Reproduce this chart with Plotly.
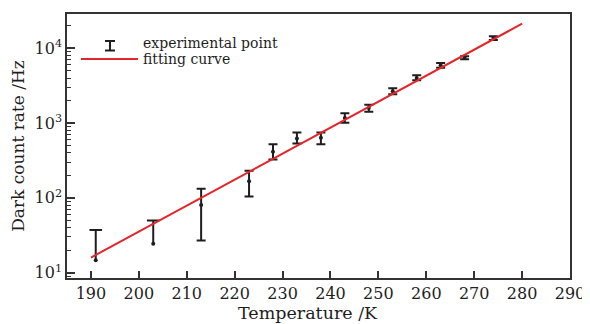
import plotly.graph_objects as go

# ---- data ----
temp_K = [191, 203, 213, 223, 228, 233, 238, 243, 248, 253, 258, 263, 268, 274]
rate_Hz = [14.6, 24.4, 80, 167, 413, 624, 635, 1170, 1592, 2665, 4009, 5930, 7480, 13770]
upper_Hz = [37.2, 49.8, 132, 230, 523, 750, 750, 1352, 1757, 2925, 4355, 6383, 7822, 14490]
lower_Hz = [None, None, 26.8, 104, 327, 535, 522, 1012, 1416, 2430, 3735, 5512, 7129, 12930]

fit_T = [190, 280]
fit_Hz = [15.9, 21400]

x_ticks = [190, 200, 210, 220, 230, 240, 250, 260, 270, 280, 290]
y_ticks = [10, 100, 1000, 10000]
y_ticktext = ["10<sup>1</sup>", "10<sup>2</sup>", "10<sup>3</sup>", "10<sup>4</sup>"]

legend_labels = ["experimental point", "fitting curve"]

FONT = "DejaVu Serif"
INK = "#1e1e1e"
AX = "#333333"
RED = "#e3262b"

W, H = 590, 324
OFF = 8  # page body margin offsets the figure on screen
# plot box as seen on screen
SL, ST, SR, SB = 67, 14, 570, 278
ML, MT = SL - OFF, ST - OFF
MR, MB = W - (SR - OFF), H - (SB - OFF)
PW, PH = SR - SL, SB - ST


def px(x):
    return (x - SL) / PW


def py(y):
    return (SB - y) / PH


# split points: full error bars vs. upper-only (lower bound below zero)
full_x, full_y, full_p, full_m = [], [], [], []
half_x, half_y, seg_x, seg_y, cap_x, cap_y = [], [], [], [], [], []
for t, v, u, l in zip(temp_K, rate_Hz, upper_Hz, lower_Hz):
    if l is None:
        half_x.append(t)
        half_y.append(v)
        seg_x += [t, t, None]
        seg_y += [v, u, None]
        cap_x.append(t)
        cap_y.append(u)
    else:
        full_x.append(t)
        full_y.append(v)
        full_p.append(u - v)
        full_m.append(v - l)

fig = go.Figure()

fig.add_trace(go.Scatter(
    x=full_x, y=full_y, mode="markers", name=legend_labels[0], showlegend=False,
    marker=dict(color=INK, size=4),
    error_y=dict(type="data", symmetric=False, array=full_p, arrayminus=full_m,
                 color=INK, thickness=2, width=4.5),
))
fig.add_trace(go.Scatter(x=seg_x, y=seg_y, mode="lines", showlegend=False,
                         line=dict(color=INK, width=2), hoverinfo="skip"))
fig.add_trace(go.Scatter(x=cap_x, y=cap_y, mode="markers", showlegend=False,
                         marker=dict(symbol="line-ew", size=9,
                                     line=dict(color=INK, width=2)), hoverinfo="skip"))
fig.add_trace(go.Scatter(x=half_x, y=half_y, mode="markers", showlegend=False,
                         marker=dict(color=INK, size=4), hoverinfo="skip"))

fig.add_trace(go.Scatter(
    x=fit_T, y=fit_Hz, mode="lines", name=legend_labels[1], showlegend=False,
    line=dict(color=RED, width=2),
))

# ---- hand-drawn legend (error-bar glyph + red line) ----
shapes = [
    dict(type="line", xref="paper", yref="paper", x0=px(110), x1=px(110), y0=py(41), y1=py(50.5),
         line=dict(color=INK, width=2)),
    dict(type="line", xref="paper", yref="paper", x0=px(105), x1=px(115), y0=py(41), y1=py(41),
         line=dict(color=INK, width=2)),
    dict(type="line", xref="paper", yref="paper", x0=px(105), x1=px(115), y0=py(50.5), y1=py(50.5),
         line=dict(color=INK, width=2)),
    dict(type="circle", xref="paper", yref="paper", x0=px(108.8), x1=px(111.2), y0=py(44.5), y1=py(46.9),
         fillcolor=INK, line=dict(color=INK, width=0)),
    dict(type="line", xref="paper", yref="paper", x0=px(81), x1=px(138), y0=py(59), y1=py(59),
         line=dict(color=RED, width=2)),
]
annotations = [
    dict(text=legend_labels[0], xref="paper", yref="paper", x=px(141), y=py(43.5),
         xanchor="left", yanchor="middle", showarrow=False, font=dict(size=14, color=INK)),
    dict(text=legend_labels[1], xref="paper", yref="paper", x=px(141), y=py(58.5),
         xanchor="left", yanchor="middle", showarrow=False, font=dict(size=14, color=INK)),
    dict(text="Temperature /K", xref="paper", yref="paper", x=px(308), y=py(325),
         xanchor="center", yanchor="bottom", showarrow=False, font=dict(size=17.5, color=INK)),
]

fig.update_layout(
    width=W, height=H,
    margin=dict(l=ML, r=MR, t=MT, b=MB, autoexpand=False),
    paper_bgcolor="white", plot_bgcolor="white",
    font=dict(family=FONT, size=16, color=INK),
    showlegend=False,
    shapes=shapes,
    annotations=annotations,
)
fig.update_xaxes(
    automargin=False,
    range=[185, 290], tickmode="array", tickvals=x_ticks,
    ticks="inside", ticklen=7, tickwidth=1.5, tickcolor=AX,
    showline=True, linecolor=AX, linewidth=1.5, mirror=True,
    showgrid=False, zeroline=False,
)
fig.update_yaxes(
    automargin=False,
    type="log", range=[0.928, 4.46], tickmode="array", tickvals=y_ticks, ticktext=y_ticktext,
    ticks="inside", ticklen=8, tickwidth=1.5, tickcolor=AX,
    minor=dict(ticks="inside", ticklen=4, dtick="D1", tickcolor=AX, tickwidth=1),
    showline=True, linecolor=AX, linewidth=1.5, mirror=True,
    showgrid=False, zeroline=False,
    title=dict(text="Dark count rate /Hz", font=dict(size=17), standoff=6),
)

fig.write_html("out.html")
